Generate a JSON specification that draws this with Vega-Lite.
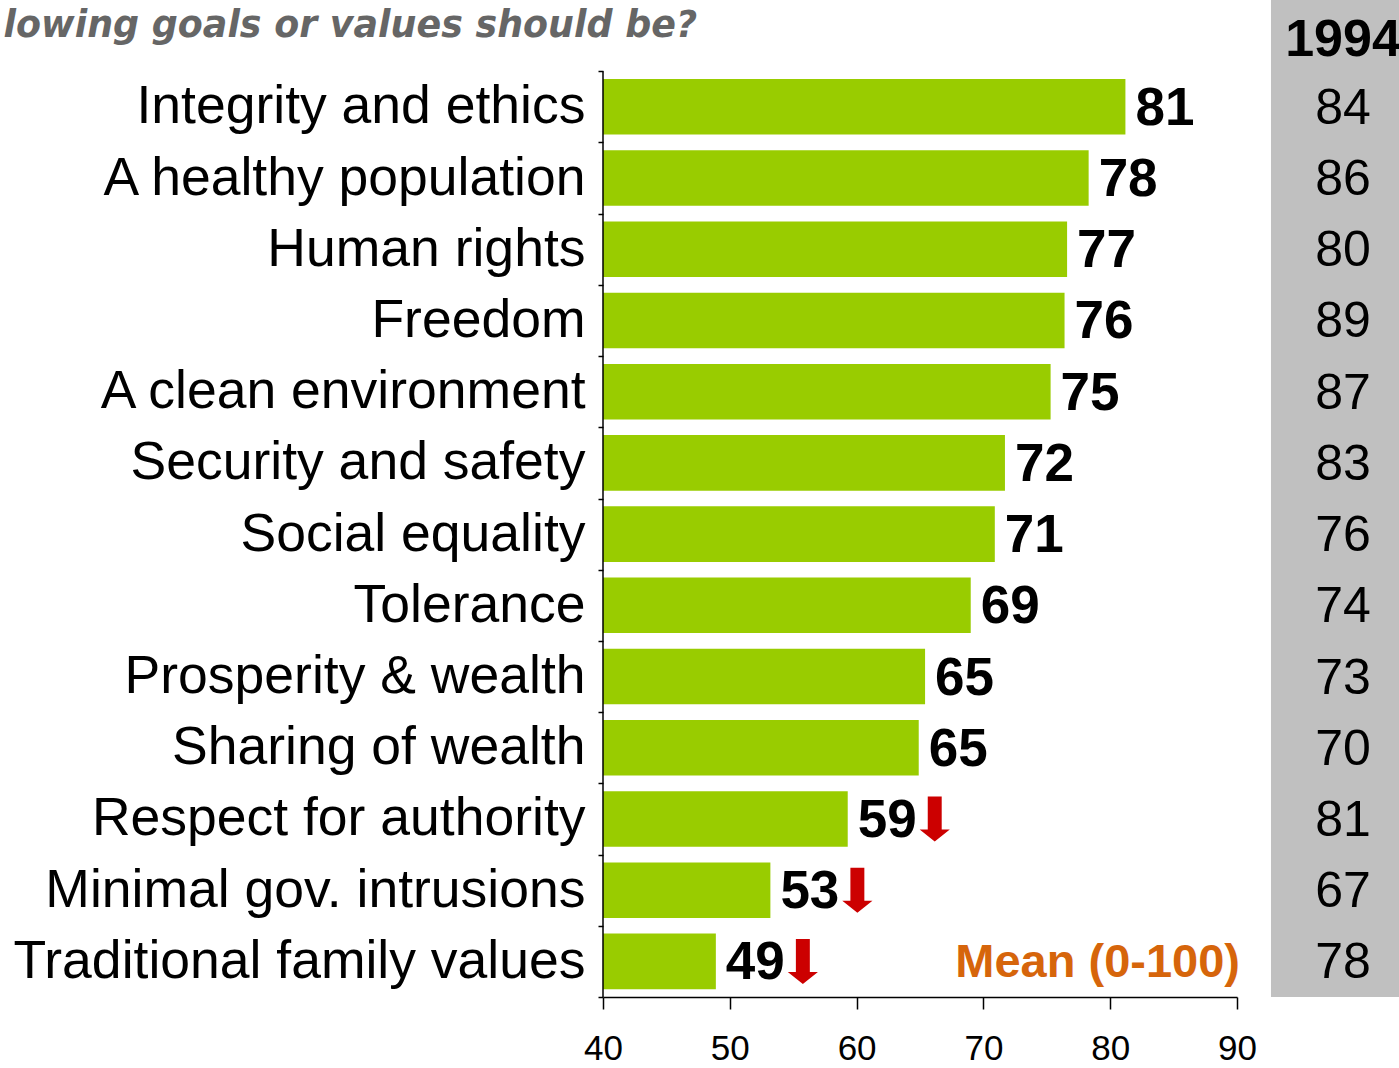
{
  "$schema": "https://vega.github.io/schema/vega-lite/v6.json",
  "width": 634,
  "height": 997,
  "autosize": {"type": "none"},
  "padding": {"left": 603, "right": 162, "top": 0, "bottom": 71},
  "background": "white",
  "title": {
    "text": "lowing goals or values should be?",
    "anchor": "start",
    "frame": "group",
    "align": "right",
    "dx": 94,
    "offset": 0,
    "dy": 100,
    "baseline": "alphabetic",
    "font": "DejaVu Sans",
    "fontSize": 36.4,
    "fontStyle": "italic",
    "fontWeight": "bold",
    "color": "#666666"
  },
  "config": {"view": {"stroke": null}, "font": "Liberation Sans"},
  "datasets": {
    "rows": [
      {"cat": "Integrity and ethics", "value": 81.2, "prev": 84, "arrow": false},
      {"cat": "A healthy population", "value": 78.3, "prev": 86, "arrow": false},
      {"cat": "Human rights", "value": 76.6, "prev": 80, "arrow": false},
      {"cat": "Freedom", "value": 76.4, "prev": 89, "arrow": false},
      {"cat": "A clean environment", "value": 75.3, "prev": 87, "arrow": false},
      {"cat": "Security and safety", "value": 71.7, "prev": 83, "arrow": false},
      {"cat": "Social equality", "value": 70.9, "prev": 76, "arrow": false},
      {"cat": "Tolerance", "value": 69.0, "prev": 74, "arrow": false},
      {"cat": "Prosperity & wealth", "value": 65.4, "prev": 73, "arrow": false},
      {"cat": "Sharing of wealth", "value": 64.9, "prev": 70, "arrow": false},
      {"cat": "Respect for authority", "value": 59.3, "prev": 81, "arrow": true},
      {"cat": "Minimal gov. intrusions", "value": 53.2, "prev": 67, "arrow": true},
      {"cat": "Traditional family values", "value": 48.9, "prev": 78, "arrow": true}
    ]
  },
  "layer": [
    {
      "data": {"values": [{"col": "1994"}]},
      "mark": {"type": "rect", "color": "#C0C0C0"},
      "encoding": {
        "x": {"datum": 92.68, "type": "quantitative"},
        "x2": {"datum": 103}
      }
    },
    {
      "data": {"name": "rows"},
      "mark": {"type": "bar", "color": "#99CC00", "height": {"band": 0.78}},
      "encoding": {
        "y": {
          "field": "cat",
          "type": "nominal",
          "sort": null,
          "scale": {
            "domain": ["1994", "Integrity and ethics", "A healthy population", "Human rights", "Freedom", "A clean environment", "Security and safety", "Social equality", "Tolerance", "Prosperity & wealth", "Sharing of wealth", "Respect for authority", "Minimal gov. intrusions", "Traditional family values"],
            "paddingInner": 0,
            "paddingOuter": 0
          },
          "axis": {
            "title": null,
            "values": ["Integrity and ethics", "A healthy population", "Human rights", "Freedom", "A clean environment", "Security and safety", "Social equality", "Tolerance", "Prosperity & wealth", "Sharing of wealth", "Respect for authority", "Minimal gov. intrusions", "Traditional family values"],
            "domain": false,
            "tickBand": "extent",
            "tickSize": 5,
            "tickColor": "black",
            "tickWidth": 1.5,
            "labelFont": "Liberation Sans",
            "labelFontSize": 53.5,
            "labelColor": "black",
            "labelPadding": 13,
            "labelLimit": 1000
          }
        },
        "x": {
          "field": "value",
          "type": "quantitative",
          "scale": {"domain": [40, 90], "zero": false, "nice": false},
          "axis": {
            "title": null,
            "values": [40, 50, 60, 70, 80, 90],
            "grid": false,
            "domainColor": "black",
            "domainWidth": 1.5,
            "tickColor": "black",
            "tickWidth": 1.5,
            "tickSize": 12,
            "labelFont": "Liberation Sans",
            "labelFontSize": 35,
            "labelColor": "black",
            "labelPadding": 22,
            "labelFlush": false
          }
        },
        "x2": {"datum": 40}
      }
    },
    {
      "data": {"values": [{"axis": "y"}]},
      "mark": {"type": "rule", "color": "black", "strokeWidth": 1.5},
      "encoding": {
        "x": {"datum": 40, "type": "quantitative"},
        "y": {"datum": "Integrity and ethics", "type": "nominal", "bandPosition": 0},
        "y2": {"datum": "Traditional family values", "bandPosition": 1}
      }
    },
    {
      "data": {"name": "rows"},
      "mark": {"type": "text", "align": "left", "baseline": "middle", "dx": 10, "dy": 2, "fontSize": 53, "fontWeight": "bold", "color": "black"},
      "encoding": {
        "y": {"field": "cat", "type": "nominal"},
        "x": {"field": "value", "type": "quantitative"},
        "text": {"field": "value", "type": "quantitative", "format": ".0f"}
      }
    },
    {
      "data": {"name": "rows"},
      "transform": [{"filter": "datum.arrow"}],
      "mark": {
        "type": "point",
        "shape": "M-0.31,-1L0.31,-1L0.31,0.47L0.67,0.47L0,1L-0.67,0.47L-0.31,0.47Z",
        "size": 2025,
        "filled": true,
        "opacity": 1,
        "strokeWidth": 0,
        "color": "#CC0000",
        "xOffset": 87
      },
      "encoding": {
        "y": {"field": "cat", "type": "nominal"},
        "x": {"field": "value", "type": "quantitative"}
      }
    },
    {
      "data": {"name": "rows"},
      "mark": {"type": "text", "align": "center", "baseline": "middle", "dy": 2, "fontSize": 50, "color": "black"},
      "encoding": {
        "y": {"field": "cat", "type": "nominal"},
        "x": {"datum": 98.36, "type": "quantitative"},
        "text": {"field": "prev", "type": "quantitative"}
      }
    },
    {
      "data": {"values": [{"t": "1994"}]},
      "mark": {"type": "text", "align": "center", "baseline": "middle", "dy": 4, "fontSize": 52, "fontWeight": "bold", "color": "black"},
      "encoding": {
        "y": {"datum": "1994", "type": "nominal"},
        "x": {"datum": 98.36, "type": "quantitative"},
        "text": {"field": "t", "type": "nominal"}
      }
    },
    {
      "data": {"values": [{"t": "Mean (0-100)"}]},
      "mark": {"type": "text", "align": "right", "baseline": "middle", "dx": 3, "dy": 2, "fontSize": 47, "fontWeight": "bold", "color": "#D6650B"},
      "encoding": {
        "y": {"datum": "Traditional family values", "type": "nominal"},
        "x": {"datum": 90, "type": "quantitative"},
        "text": {"field": "t", "type": "nominal"}
      }
    }
  ]
}
